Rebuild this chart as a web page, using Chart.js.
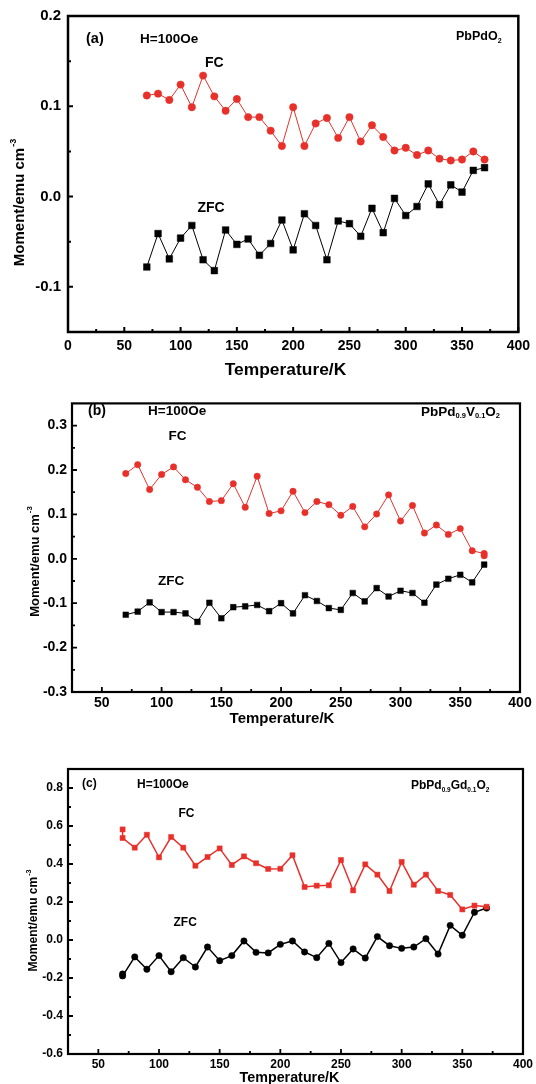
<!DOCTYPE html>
<html><head><meta charset="utf-8">
<script src="https://cdn.jsdelivr.net/npm/chart.js@4.4.1/dist/chart.umd.min.js"></script>
<style>
html,body{margin:0;padding:0;background:#fff;width:536px;height:1084px;overflow:hidden;position:relative;}
canvas{position:absolute;left:0;}
</style></head><body>
<canvas id="ca" width="536" height="390" style="top:0px"></canvas>
<canvas id="cb" width="536" height="340" style="top:390px"></canvas>
<canvas id="cc" width="536" height="354" style="top:730px"></canvas>
<script>
// ---------- DATA ----------
const temps = [70,80,90,100,110,120,130,140,150,160,170,180,190,200,210,220,230,240,250,260,270,280,290,300,310,320,330,340,350,360,370];
const tempsFcB = [70,80,90,100,110,120,130,140,150,160,170,180,190,200,210,220,230,240,250,260,270,280,290,300,310,320,330,340,350,360,370,370];
const tempsC = [70,70,80,90,100,110,120,130,140,150,160,170,180,190,200,210,220,230,240,250,260,270,280,290,300,310,320,330,340,350,360,370];

// (a) PbPdO2
const fcA = [0.112,0.114,0.107,0.124,0.099,0.134,0.111,0.095,0.108,0.088,0.088,0.073,0.056,0.099,0.056,0.081,0.087,0.065,0.088,0.061,0.079,0.066,0.051,0.054,0.046,0.051,0.042,0.040,0.041,0.050,0.041];
const zfcA = [-0.078,-0.041,-0.069,-0.046,-0.032,-0.070,-0.082,-0.037,-0.053,-0.047,-0.065,-0.052,-0.026,-0.059,-0.019,-0.032,-0.070,-0.027,-0.030,-0.044,-0.013,-0.040,-0.002,-0.021,-0.011,0.014,-0.009,0.013,0.005,0.029,0.032];
// (b) PbPd0.9V0.1O2
const fcB = [0.192,0.212,0.156,0.190,0.207,0.178,0.161,0.129,0.131,0.169,0.116,0.186,0.102,0.108,0.152,0.104,0.129,0.122,0.098,0.118,0.072,0.101,0.144,0.085,0.120,0.058,0.076,0.055,0.068,0.018,0.012,0.007];
const zfcB = [-0.126,-0.119,-0.098,-0.120,-0.120,-0.123,-0.142,-0.099,-0.134,-0.109,-0.107,-0.104,-0.118,-0.100,-0.123,-0.082,-0.095,-0.111,-0.115,-0.077,-0.096,-0.066,-0.085,-0.072,-0.077,-0.099,-0.058,-0.045,-0.036,-0.053,-0.013];
// (c) PbPd0.9Gd0.1O2
const fcC = [0.582,0.537,0.486,0.554,0.435,0.542,0.486,0.391,0.437,0.482,0.395,0.440,0.404,0.374,0.375,0.446,0.279,0.286,0.288,0.421,0.261,0.398,0.344,0.258,0.411,0.291,0.344,0.258,0.237,0.161,0.181,0.175];
const zfcC = [-0.179,-0.189,-0.089,-0.154,-0.082,-0.167,-0.093,-0.142,-0.037,-0.109,-0.082,-0.005,-0.065,-0.068,-0.023,-0.005,-0.063,-0.093,-0.018,-0.119,-0.047,-0.095,0.018,-0.030,-0.044,-0.037,0.007,-0.074,0.077,0.025,0.146,0.168];

// ---------- TICKS ----------
const xTicksA = [0,50,100,150,200,250,300,350,400];
const xMinorA = [25,75,125,175,225,275,325,375];
const yTicksA = [-0.1,0.0,0.1,0.2];
const yMinorA = [-0.05,0.05,0.15];
const xTicksBC = [50,100,150,200,250,300,350,400];
const xMinorBC = [75,125,175,225,275,325,375];
const yTicksB = [-0.3,-0.2,-0.1,0.0,0.1,0.2,0.3];
const yMinorB = [-0.25,-0.15,-0.05,0.05,0.15,0.25];
const yTicksC = [-0.6,-0.4,-0.2,0.0,0.2,0.4,0.6,0.8];
const yMinorC = [-0.5,-0.3,-0.1,0.1,0.3,0.5,0.7];

const RED = '#e8302b';
const BLK = '#000000';
const FAM = '"Liberation Sans", Arial, sans-serif';
const fnt = s => `bold ${s}px ${FAM}`;

function pts(xs, ys){ return xs.map((x,i)=>({x:x, y:ys[i]})); }

function drawRich(ctx, parts, x, y, size, subSize){
  let cx = x;
  for (const p of parts){
    if (p.s){
      ctx.font = fnt(subSize);
      ctx.fillText(p.t, cx, y + size*0.32);
    } else {
      ctx.font = fnt(size);
      ctx.fillText(p.t, cx, y);
    }
    cx += ctx.measureText(p.t).width;
  }
}

function decor(spec){
  return {
    id: 'decor_' + spec.name,
    afterDraw(chart){
      const ctx = chart.ctx, a = chart.chartArea, xs = chart.scales.x, ys = chart.scales.y;
      ctx.save();
      ctx.strokeStyle = '#000';
      // frame
      ctx.lineWidth = spec.frameW;
      ctx.strokeRect(a.left, a.top, a.right - a.left, a.bottom - a.top);
      // inward ticks
      ctx.lineWidth = spec.tickW;
      ctx.beginPath();
      for (const v of spec.xMajor){ const p = xs.getPixelForValue(v); ctx.moveTo(p, a.bottom); ctx.lineTo(p, a.bottom - spec.major); }
      for (const v of spec.xMinor){ const p = xs.getPixelForValue(v); ctx.moveTo(p, a.bottom); ctx.lineTo(p, a.bottom - spec.minor); }
      for (const v of spec.yMajor){ const p = ys.getPixelForValue(v); ctx.moveTo(a.left, p); ctx.lineTo(a.left + spec.major, p); }
      for (const v of spec.yMinor){ const p = ys.getPixelForValue(v); ctx.moveTo(a.left, p); ctx.lineTo(a.left + spec.minor, p); }
      ctx.stroke();
      // texts
      ctx.fillStyle = '#000';
      ctx.textBaseline = 'middle';
      ctx.textAlign = 'left';
      for (const t of spec.texts){
        ctx.font = fnt(t.size);
        ctx.fillText(t.text, t.x, t.y);
      }
      drawRich(ctx, spec.formula.parts, spec.formula.x, spec.formula.y, spec.formula.size, spec.formula.sub);
      // x title
      ctx.textAlign = 'center';
      ctx.font = fnt(spec.xTitle.size);
      ctx.fillText(spec.xTitle.text, spec.xTitle.x, spec.xTitle.y);
      // y title (rotated) with superscript
      const yt = spec.yTitle;
      ctx.save();
      ctx.translate(yt.x, yt.y);
      ctx.rotate(-Math.PI/2);
      ctx.textAlign = 'left';
      ctx.font = fnt(yt.size);
      const w1 = ctx.measureText(yt.text).width;
      ctx.font = fnt(yt.size*0.6);
      const w2 = ctx.measureText(yt.sup).width;
      const start = -(w1 + w2)/2;
      ctx.font = fnt(yt.size);
      ctx.fillText(yt.text, start, 0);
      ctx.font = fnt(yt.size*0.6);
      ctx.fillText(yt.sup, start + w1 + 1, -yt.size*0.4);
      ctx.restore();
      ctx.restore();
    }
  };
}

function makeChart(id, cfg){
  const ds = cfg.series.map(s => ({
    label: s.label,
    data: pts(s.xs, s.ys),
    borderColor: s.color,
    backgroundColor: s.color,
    borderWidth: s.lw,
    pointStyle: s.style,
    pointRadius: s.r,
    pointBorderWidth: 0.5,
    pointBorderColor: s.color,
    pointBackgroundColor: s.color,
    tension: 0,
    fill: false
  }));
  return new Chart(document.getElementById(id), {
    type: 'line',
    data: { datasets: ds },
    options: {
      responsive: false,
      animation: false,
      events: [],
      layout: { padding: cfg.pad },
      plugins: { legend: { display: false }, tooltip: { enabled: false }, title: { display: false } },
      scales: {
        x: {
          type: 'linear', min: cfg.xMin, max: cfg.xMax,
          grid: { display: false, drawTicks: false },
          border: { display: false },
          afterBuildTicks: sc => { sc.ticks = cfg.xTicks.map(v => ({ value: v })); },
          afterFit: sc => { sc.height = cfg.xH; },
          ticks: { autoSkip: false, maxRotation: 0, padding: cfg.xPad, color: '#000', font: { family: FAM, weight: 'bold', size: cfg.xFont }, callback: v => String(v) }
        },
        y: {
          type: 'linear', min: cfg.yMin, max: cfg.yMax,
          grid: { display: false, drawTicks: false },
          border: { display: false },
          afterBuildTicks: sc => { sc.ticks = cfg.yTicks.map(v => ({ value: v })); },
          afterFit: sc => { sc.width = cfg.yW; },
          ticks: { autoSkip: false, padding: cfg.yPad, color: '#000', font: { family: FAM, weight: 'bold', size: cfg.yFont }, callback: v => Number(v).toFixed(1) }
        }
      }
    },
    plugins: [decor(cfg.decor)]
  });
}

// ---------- PANEL (a) ----------
makeChart('ca', {
  pad: { left: 0, right: 13, top: 16, bottom: 0 },
  xMin: 0, xMax: 400, yMin: -0.15, yMax: 0.2,
  xTicks: xTicksA, yTicks: yTicksA,
  xH: 58, yW: 68, xPad: 6, yPad: 7, xFont: 14, yFont: 15,
  series: [
    { label: 'FC', xs: temps, ys: fcA, color: RED, lw: 1, style: 'circle', r: 3.7 },
    { label: 'ZFC', xs: temps, ys: zfcA, color: BLK, lw: 1, style: 'rect', r: 4.7 }
  ],
  decor: {
    name: 'a', frameW: 2.5, tickW: 2, major: 5, minor: 3,
    xMajor: xTicksA, xMinor: xMinorA, yMajor: yTicksA, yMinor: yMinorA,
    texts: [
      { text: '(a)', x: 86, y: 39, size: 14.5 },
      { text: 'H=100Oe', x: 140, y: 39, size: 13.5 },
      { text: 'FC', x: 205, y: 63, size: 14 },
      { text: 'ZFC', x: 197.5, y: 208, size: 14 }
    ],
    formula: { parts: [{ t: 'PbPdO' }, { t: '2', s: 1 }], x: 456, y: 37, size: 12.5, sub: 7 },
    xTitle: { text: 'Temperature/K', x: 285.5, y: 370, size: 17.4 },
    yTitle: { text: 'Moment/emu cm', sup: '-3', x: 19.7, y: 203, size: 15 }
  }
});

// ---------- PANEL (b) ----------
makeChart('cb', {
  pad: { left: 0, right: 16, top: 5, bottom: 0 },
  xMin: 25, xMax: 400, yMin: -0.3, yMax: 0.35,
  xTicks: xTicksBC, yTicks: yTicksB,
  xH: 38, yW: 72, xPad: 3, yPad: 5, xFont: 14, yFont: 14,
  series: [
    { label: 'FC', xs: tempsFcB, ys: fcB, color: RED, lw: 1, style: 'circle', r: 3.2 },
    { label: 'ZFC', xs: temps, ys: zfcB, color: BLK, lw: 1, style: 'rect', r: 4 }
  ],
  decor: {
    name: 'b', frameW: 2.2, tickW: 1.8, major: 5, minor: 3,
    xMajor: xTicksBC, xMinor: xMinorBC, yMajor: yTicksB, yMinor: yMinorB,
    texts: [
      { text: '(b)', x: 88, y: 21, size: 14 },
      { text: 'H=100Oe', x: 148, y: 21, size: 13.5 },
      { text: 'FC', x: 168.5, y: 46, size: 13.5 },
      { text: 'ZFC', x: 158, y: 191, size: 13.5 }
    ],
    formula: { parts: [{ t: 'PbPd' }, { t: '0.9', s: 1 }, { t: 'V' }, { t: '0.1', s: 1 }, { t: 'O' }, { t: '2', s: 1 }], x: 421, y: 22, size: 13.5, sub: 7.5 },
    xTitle: { text: 'Temperature/K', x: 282, y: 329, size: 15 },
    yTitle: { text: 'Moment/emu cm', sup: '-3', x: 35, y: 172, size: 13 }
  }
});

// ---------- PANEL (c) ----------
makeChart('cc', {
  pad: { left: 0, right: 12, top: 39, bottom: 0 },
  xMin: 25, xMax: 400, yMin: -0.6, yMax: 0.9,
  xTicks: xTicksBC, yTicks: yTicksC,
  xH: 30, yW: 68, xPad: 3, yPad: 5, xFont: 12, yFont: 12,
  series: [
    { label: 'FC', xs: tempsC, ys: fcC, color: RED, lw: 1.5, style: 'rect', r: 3.6 },
    { label: 'ZFC', xs: tempsC, ys: zfcC, color: BLK, lw: 1.5, style: 'circle', r: 3.2 }
  ],
  decor: {
    name: 'c', frameW: 2.2, tickW: 1.8, major: 5, minor: 3,
    xMajor: xTicksBC, xMinor: xMinorBC, yMajor: yTicksC, yMinor: yMinorC,
    texts: [
      { text: '(c)', x: 82, y: 54, size: 12 },
      { text: 'H=100Oe', x: 137, y: 55, size: 12 },
      { text: 'FC', x: 178.5, y: 84, size: 12 },
      { text: 'ZFC', x: 173.5, y: 193, size: 12 }
    ],
    formula: { parts: [{ t: 'PbPd' }, { t: '0.9', s: 1 }, { t: 'Gd' }, { t: '0.1', s: 1 }, { t: 'O' }, { t: '2', s: 1 }], x: 411, y: 56, size: 12, sub: 6.5 },
    xTitle: { text: 'Temperature/K', x: 289.5, y: 348, size: 14.3 },
    yTitle: { text: 'Moment/emu cm', sup: '-3', x: 34, y: 191, size: 12 }
  }
});
</script>
</body></html>
